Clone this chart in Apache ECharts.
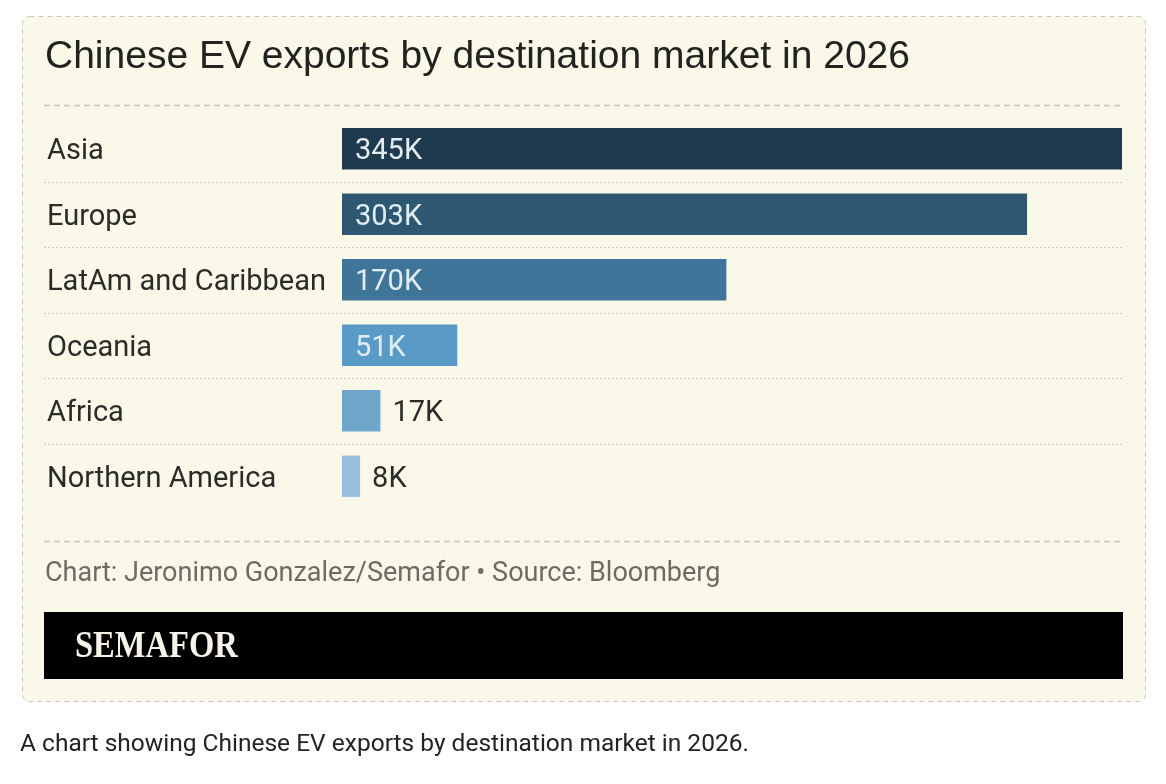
<!DOCTYPE html>
<html>
<head>
<meta charset="utf-8">
<title>Chinese EV exports by destination market in 2026</title>
<script src="https://cdn.jsdelivr.net/npm/echarts@6/dist/echarts.min.js"></script>
<style>
  html, body { margin: 0; padding: 0; background: #fff; }
  #chart { width: 1166px; height: 784px; }
</style>
</head>
<body>
<div id="chart"></div>
<script>
// data (thousands of vehicles)
const markets = ['Asia', 'Europe', 'LatAm and Caribbean', 'Oceania', 'Africa', 'Northern America']
const exportsK = [345, 303, 170, 51, 17, 8]
const barColors = ['#1f3a4c', '#2e5872', '#3f7598', '#5a9ac6', '#6ea6cc', '#98bedc']
// small bars get their label outside
const labelInside = [true, true, true, true, false, false]

const cardBg = '#faf8e9'
const textDark = '#2b2b28'
const condensed = 'Roboto, "DejaVu Sans Condensed", sans-serif'

const chart = echarts.init(document.getElementById('chart'), null, { renderer: 'canvas' })

const option = {
    backgroundColor: '#ffffff',
    animation: false,
    grid: { left: 342, right: 44, top: 116, height: 393 },
    xAxis: {
        type: 'value',
        min: 0,
        max: 345,
        show: false
    },
    yAxis: {
        type: 'category',
        data: markets,
        inverse: true,
        axisLine: { show: false },
        axisTick: { show: false },
        splitLine: { show: false },
        axisLabel: {
            align: 'left',
            margin: 295,
            formatter: v => '{m|' + v + '}',
            rich: {
                m: {
                    fontFamily: condensed,
                    fontSize: 29,
                    color: textDark,
                    padding: [6, 0, 0, 0]
                }
            }
        }
    },
    series: [{
        type: 'bar',
        barCategoryGap: '37%',
        z: 5,
        data: exportsK.map((v, i) => ({
            value: v,
            itemStyle: { color: barColors[i] },
            label: labelInside[i]
                ? { position: 'insideLeft', distance: 13, color: '#e2edf3' }
                : { position: 'right', distance: 12, color: textDark }
        })),
        label: {
            show: true,
            fontFamily: condensed,
            fontSize: 29,
            offset: [0, 3],
            formatter: p => p.value + 'K'
        }
    }]
}
chart.setOption(option)

// decorations: card, title, separators, footer, caption
function drawDecor() {
    const left = 44, right = 1123
    const seps = []
    for (let i = 0; i < markets.length - 1; i++) {
        const y0 = chart.convertToPixel({ yAxisIndex: 0 }, markets[i])
        const y1 = chart.convertToPixel({ yAxisIndex: 0 }, markets[i + 1])
        const y = Math.round((y0 + y1) / 2) + 0.5
        seps.push({
            type: 'line',
            z: 2,
            shape: { x1: left, y1: y, x2: right, y2: y },
            style: { stroke: '#cfccbf', lineWidth: 1, lineDash: [2, 2] }
        })
    }
    chart.setOption({
        graphic: [
            {
                type: 'rect', z: 0,
                shape: { x: 22.5, y: 16.5, width: 1123, height: 685, r: 7 },
                style: { fill: cardBg, stroke: '#c9c7bc', lineWidth: 1, lineDash: [5, 4] }
            },
            {
                type: 'text', z: 3, x: 45, y: 57,
                style: {
                    text: 'Chinese EV exports by destination market in 2026',
                    font: '39px "Liberation Sans", Arial, sans-serif',
                    fill: '#22221f',
                    verticalAlign: 'middle'
                }
            },
            {
                type: 'line', z: 2,
                shape: { x1: left, y1: 105.5, x2: right, y2: 105.5 },
                style: { stroke: '#c9c7bc', lineWidth: 1.5, lineDash: [6, 4] }
            },
            {
                type: 'line', z: 2,
                shape: { x1: left, y1: 541.5, x2: right, y2: 541.5 },
                style: { stroke: '#c9c7bc', lineWidth: 1.5, lineDash: [6, 4] }
            },
            ...seps,
            {
                type: 'text', z: 3, x: 45, y: 574,
                style: {
                    text: 'Chart: Jeronimo Gonzalez/Semafor \u2022 Source: Bloomberg',
                    font: '27px ' + condensed,
                    fill: '#6c6b64',
                    verticalAlign: 'middle'
                }
            },
            {
                type: 'rect', z: 3,
                shape: { x: 44, y: 612, width: 1079, height: 67 },
                style: { fill: '#000000' }
            },
            {
                type: 'text', z: 4, x: 75, y: 647,
                scaleX: 0.88,
                style: {
                    text: 'SEMAFOR',
                    font: 'bold 37px "Liberation Serif", "DejaVu Serif", serif',
                    fill: '#f5f3ea',
                    verticalAlign: 'middle'
                }
            },
            {
                type: 'text', z: 3, x: 20, y: 745,
                style: {
                    text: 'A chart showing Chinese EV exports by destination market in 2026.',
                    font: '24.5px ' + condensed,
                    fill: '#232323',
                    verticalAlign: 'middle'
                }
            }
        ]
    })
}
drawDecor()
</script>
</body>
</html>
